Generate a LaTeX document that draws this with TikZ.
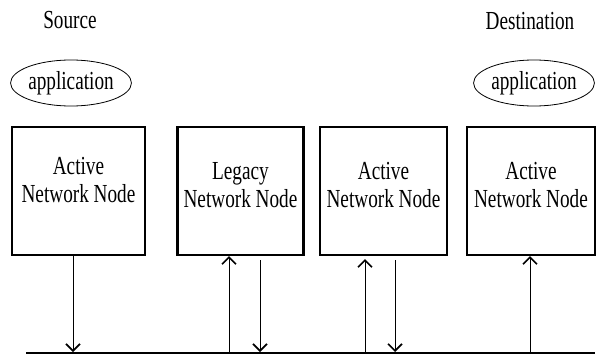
\documentclass[tikz,border=0pt]{standalone}
\usepackage{fontspec}
\setmainfont[FakeStretch=0.74]{Liberation Serif}
\usetikzlibrary{arrows.meta,positioning,shapes.geometric}

\begin{document}
\begin{tikzpicture}[x=1pt,y=-1pt,
	netbox/.style={draw, line width=2.2pt, inner sep=0pt, minimum height=128pt},
	boxtext/.style={align=center, inner sep=0pt, font=\fontsize{26}{28}\selectfont},
	appl/.style={draw, ellipse, line width=0.8pt, inner sep=0pt, minimum height=46pt, font=\fontsize{26}{28}\selectfont},
	label/.style={inner sep=0pt, font=\fontsize{26}{28}\selectfont},
	msg/.style={line width=0.8pt, -{Straight Barb[length=7pt,width=14pt,line width=1.6pt]}}]
	%%%%% START %%%%%
	
	\useasboundingbox (0,0) rectangle (600,356);
	
	\node[label, anchor=base] (src) at (70, 28) {Source};
	\node[label, anchor=base] (dst) at (530, 29) {Destination};
	
	\node[appl, minimum width=118pt] (app1) at (71, 83) {application};
	\node[appl, minimum width=110pt] (app2) at (534, 83) {application};
	
	\node[netbox, minimum width=133pt] (n1) at (78.5, 191) {};
	\node[netbox, minimum width=126pt] (n2) at (240.5, 191) {};
	\node[netbox, minimum width=127pt] (n3) at (383.5, 191) {};
	\node[netbox, minimum width=128pt] (n4) at (531, 191) {};
	
	\node[boxtext, below=31pt of n1.north] (t1) {Active\\Network Node};
	\node[boxtext, below=36pt of n2.north] (t2) {Legacy\\Network Node};
	\node[boxtext, below=36pt of n3.north] (t3) {Active\\Network Node};
	\node[boxtext, below=36pt of n4.north] (t4) {Active\\Network Node};
	
	% the shared link
	\coordinate (busL) at (26, 353);
	\coordinate (busR) at (595, 353);
	\draw[line width=2.6pt] (busL) -- (busR);
	
	\coordinate (b1) at (73, 352);
	\coordinate (b2a) at (229, 352);
	\coordinate (b2b) at (260, 352);
	\coordinate (b3a) at (365, 352);
	\coordinate (b3b) at (395, 352);
	\coordinate (b4) at (530, 352);
	
	\draw[msg] (n1.south -| b1) -- (b1);
	\draw[msg] (b2a) -- (n2.south -| b2a);
	\draw[msg] ([yshift=-4pt]n2.south -| b2b) -- (b2b);
	\draw[msg] (b3a) -- ([yshift=-3pt]n3.south -| b3a);
	\draw[msg] ([yshift=-4pt]n3.south -| b3b) -- (b3b);
	\draw[msg] (b4) -- (n4.south -| b4);
	
	%%%%% END %%%%%
\end{tikzpicture}
\end{document}
